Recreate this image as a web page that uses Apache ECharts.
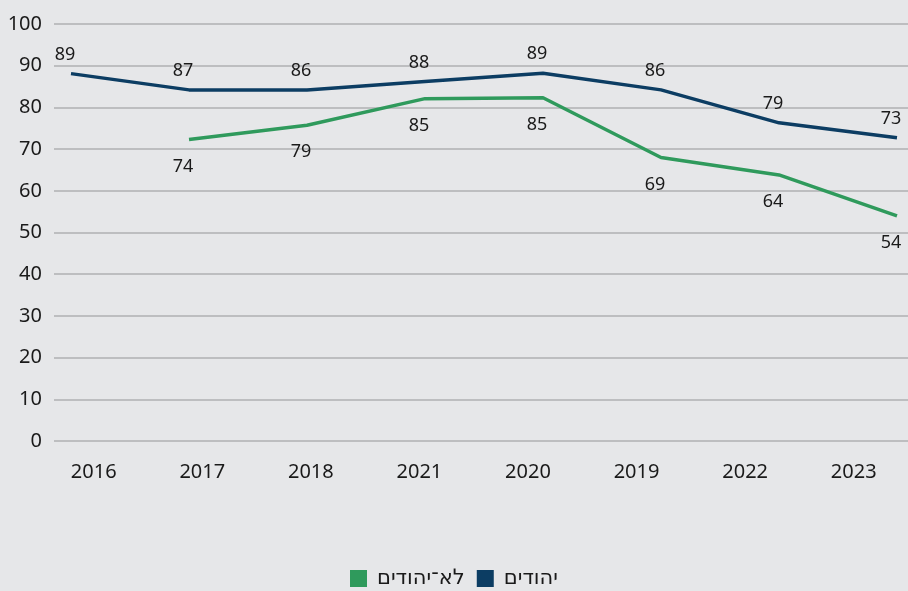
<!DOCTYPE html>
<html>
<head>
<meta charset="utf-8">
<script src="https://cdn.jsdelivr.net/npm/echarts@6/dist/echarts.min.js"></script>
<style>
html,body{margin:0;padding:0;background:#e6e7e9;}
#chart{width:908px;height:591px;}
</style>
</head>
<body>
<div id="chart"></div>
<script>
const categories = ['2016','2017','2018','2021','2020','2019','2022','2023'];
const jewsValues = [88.1, 84.2, 84.2, 86.2, 88.2, 84.2, 76.3, 72.7];
const jewsLabels = [89, 87, 86, 88, 89, 86, 79, 73];
const nonJewsValues = [null, 72.3, 75.7, 82.1, 82.3, 68.0, 63.8, 54.0];
const nonJewsLabels = [null, 74, 79, 85, 85, 69, 64, 54];
const yTicks = [0,10,20,30,40,50,60,70,80,90,100];
const seriesNames = ['יהודים', 'לא־יהודים'];

const FONT = '"Noto Sans", "DejaVu Sans", sans-serif';
const TEXT = '#1a1a1a';
const NAVY = '#0c3d63';
const GREEN = '#2f9a5c';

const chart = echarts.init(document.getElementById('chart'), null, {renderer:'canvas'});
const gTop = 24, gBottom = 150;
chart.setOption({
  backgroundColor: '#e6e7e9',
  animation: false,
  textStyle: {fontFamily: FONT},
  grid: [
    {left: 54, right: 0, top: gTop, bottom: gBottom},
    {left: 71, right: 11, top: gTop, bottom: gBottom},
    {left: 39.4, width: 889.6, top: gTop, bottom: gBottom}
  ],
  xAxis: [
    {gridIndex: 0, type: 'category', data: categories, show: false},
    {gridIndex: 1, type: 'category', data: categories, boundaryGap: false, show: false},
    {gridIndex: 2, type: 'category', data: categories, boundaryGap: true,
     axisLine: {show: false}, axisTick: {show: false}, splitLine: {show: false},
     axisLabel: {color: TEXT, fontSize: 20, fontFamily: FONT, margin: 21}}
  ],
  yAxis: [
    {gridIndex: 0, type: 'value', min: yTicks[0], max: yTicks[yTicks.length-1], interval: 10,
     axisLine: {show: false}, axisTick: {show: false},
     axisLabel: {color: TEXT, fontSize: 20, fontFamily: FONT, margin: 12},
     splitLine: {show: true, lineStyle: {color: '#bdbec0', width: 2}}},
    {gridIndex: 1, type: 'value', min: 0, max: 100, show: false, splitLine: {show: false}},
    {gridIndex: 2, type: 'value', min: 0, max: 100, show: false, splitLine: {show: false}}
  ],
  legend: {
    bottom: -3, left: 'center',
    data: [seriesNames[1], seriesNames[0]],
    icon: 'rect', itemWidth: 17, itemHeight: 17, itemGap: 12,
    textStyle: {color: TEXT, fontSize: 21, fontFamily: FONT, padding: [0, 0, 0, 5]}
  },
  series: [
    {
      name: seriesNames[0], type: 'line', xAxisIndex: 1, yAxisIndex: 1,
      data: jewsValues, symbol: 'circle', symbolSize: 0, showSymbol: true,
      lineStyle: {color: NAVY, width: 3.5}, itemStyle: {color: NAVY},
      label: {show: true, position: 'top', distance: 10, offset: [-6, 0],
        color: TEXT, fontSize: 18, fontFamily: FONT,
        formatter: p => jewsLabels[p.dataIndex]},
      z: 3
    },
    {
      name: seriesNames[1], type: 'line', xAxisIndex: 1, yAxisIndex: 1,
      data: nonJewsValues, symbol: 'circle', symbolSize: 0, showSymbol: true,
      lineStyle: {color: GREEN, width: 3.5}, itemStyle: {color: GREEN},
      label: {show: true, position: 'bottom', distance: 18, offset: [-6, 0],
        color: TEXT, fontSize: 18, fontFamily: FONT,
        formatter: p => nonJewsLabels[p.dataIndex] == null ? '' : nonJewsLabels[p.dataIndex]},
      z: 3
    }
  ]
});
</script>
</body>
</html>
